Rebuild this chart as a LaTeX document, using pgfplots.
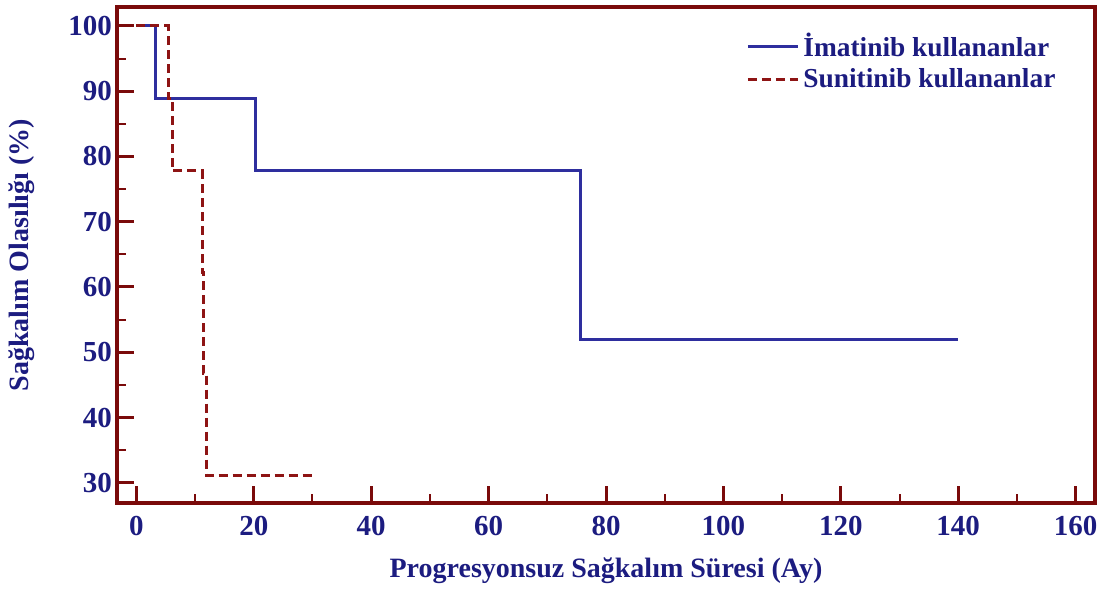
\documentclass[border=0pt]{standalone}
\usepackage{fontspec}
\setmainfont{Liberation Serif}
\usepackage{pgfplots}
\pgfplotsset{compat=1.18}
\definecolor{framec}{HTML}{7A0A0A}
\definecolor{txtc}{HTML}{1C1C80}
\definecolor{bluec}{HTML}{2E2E9E}
\definecolor{redc}{HTML}{8E1414}
\begin{document}
\begin{tikzpicture}
\path[use as bounding box] (0pt,0pt) rectangle (554.5pt,-295.5pt);
\begin{axis}[
  at={(58.5pt,-251.5pt)}, anchor=south west,
  scale only axis, width=489pt, height=248pt,
  xmin=-3.3, xmax=163.3, ymin=26.9, ymax=102.9,
  xtick={0,20,...,160}, ytick={30,40,...,100},
  minor x tick num=1, minor y tick num=1,
  xtick pos=bottom, ytick pos=left,
  tick align=inside,
  major tick length=8.5pt, minor tick length=4.5pt,
  every major tick/.style={draw=framec, line width=1.5pt},
  every minor tick/.style={draw=framec, line width=1pt},
  axis line style={draw=framec, line width=1.8pt},
  /pgf/number format/assume math mode=true,
  ticklabel style={font=\fontsize{14.5}{16}\selectfont\bfseries, text=txtc},
  xticklabel style={yshift=-3pt},
  yticklabel style={xshift=1pt},
  xlabel={Progresyonsuz Sağkalım Süresi (Ay)},
  ylabel={Sağkalım Olasılığı (\%)},
  label style={font=\fontsize{14}{16}\selectfont\bfseries, text=txtc},
  xlabel style={yshift=-4pt},
  ylabel style={yshift=10pt},
  legend style={at={(0.637,0.965)}, anchor=north west, draw=none, fill=none,
    font=\fontsize{13.7}{16}\selectfont\bfseries, text=txtc, row sep=0.5pt},
  legend cell align=left,
  legend image code/.code={\draw[#1] (0pt,0pt) -- (25pt,0pt);},
]
\addplot[bluec, line width=1.5pt] coordinates {
  (0,100) (3.2,100) (3.2,88.9) (20.3,88.9) (20.3,77.8) (75.6,77.8) (75.6,51.9) (140,51.9)};
\addlegendentry{İmatinib kullananlar}
\addplot[redc, line width=1.5pt, dash pattern=on 4.5pt off 2.5pt] coordinates {
  (0,100) (5.4,100) (5.4,88.9) (6.1,88.9) (6.1,77.8) (11.2,77.8) (11.2,62.2) (11.4,62.2) (11.4,46.7) (12.0,46.7) (12.0,31.1) (30.1,31.1)};
\addlegendentry{Sunitinib kullananlar}
\end{axis}
\end{tikzpicture}
\end{document}
